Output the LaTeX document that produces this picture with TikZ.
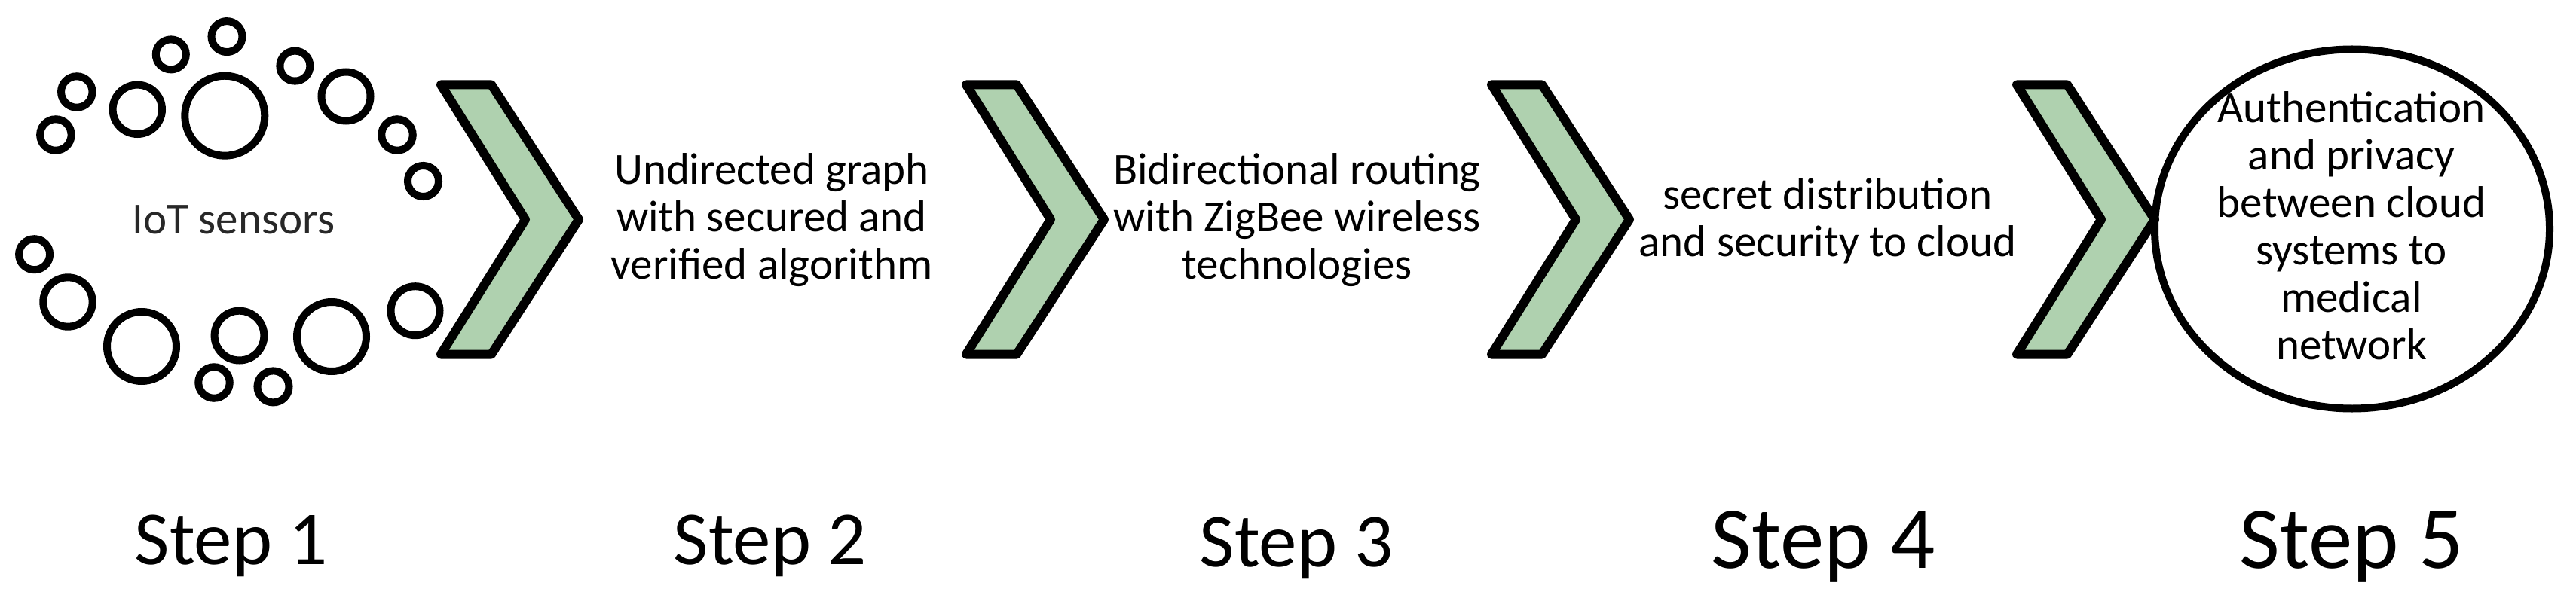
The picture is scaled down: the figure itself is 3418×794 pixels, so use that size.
\documentclass[tikz,border=0pt]{standalone}
\usepackage{fontspec}
\setmainfont{Carlito}
\usetikzlibrary{shapes.geometric}
\definecolor{chevgreen}{RGB}{175,209,175}
\definecolor{iotgray}{RGB}{40,40,40}
\begin{document}
\begin{tikzpicture}[x=1pt,y=-1pt,
  sensor/.style={draw=black, line width=10pt, circle, inner sep=0pt, minimum size=#1},
  chev/.style={draw=black, fill=chevgreen, line width=12pt, line join=round},
  body/.style={font=\fontsize{59}{63}\selectfont, align=center, inner sep=0pt},
  steplbl/.style={font=\fontsize{#1}{#1}\selectfont, inner sep=0pt, anchor=base}]
\useasboundingbox (0,0) rectangle (3418,794);
\fill[white] (0,0) rectangle (3418,794);
% IoT sensors
\node[sensor=41pt] (c1) at (301,48.6) {};
\node[sensor=40pt] (c2) at (226.8,72.4) {};
\node[sensor=41.5pt] (c3) at (101.8,122) {};
\node[sensor=41.5pt] (c4) at (73.9,179) {};
\node[sensor=65.4pt] (c5) at (182.3,145.3) {};
\node[sensor=106pt] (c6) at (298.3,153.7) {};
\node[sensor=40pt] (c7) at (391.4,87.6) {};
\node[sensor=65pt] (c8) at (459,128) {};
\node[sensor=41.5pt] (c9) at (527,179) {};
\node[sensor=41pt] (c10) at (561.5,240.5) {};
\node[sensor=41pt] (c11) at (45.6,337.7) {};
\node[sensor=65.4pt] (c12) at (90,401) {};
\node[sensor=92pt] (c13) at (188,460) {};
\node[sensor=65.8pt] (c14) at (317.5,445.6) {};
\node[sensor=41.5pt] (c15) at (284,508) {};
\node[sensor=42pt] (c16) at (362.5,513.4) {};
\node[sensor=92pt] (c17) at (440,447) {};
\node[sensor=65pt] (c18) at (551,412.7) {};
% chevrons
\foreach \x in {585,1282,1979,2676}
  \draw[chev] (\x,112.5) -- ++(67,0) -- ++(116,179) -- ++(-116,179) -- ++(-67,0) -- ++(112,-179) -- cycle;
% final ellipse
\node[draw=black, line width=10pt, ellipse, minimum width=524pt, minimum height=477pt, inner sep=0pt] (e5) at (3121,304) {};
% texts
\node[body, text=iotgray, anchor=base] (t1) at (310,310) {IoT sensors};
\node[body] (t2) at (1024,292) {Undirected graph\\with secured and\\verified algorithm};
\node[body] (t3) at (1721,292) {Bidirectional routing\\with ZigBee wireless\\technologies};
\node[body] (t4) at (2425,293) {secret distribution\\and security to cloud};
\node[body] (t5) at (3120,300) {Authentication\\and privacy\\between cloud\\systems to\\medical\\network};
% step labels
\node[steplbl=101] (s1) at (307,749) {Step 1};
\node[steplbl=101] (s2) at (1022,749) {Step 2};
\node[steplbl=101] (s3) at (1720,752) {Step 3};
\node[steplbl=117] (s4) at (2419,754) {Step 4};
\node[steplbl=117] (s5) at (3120,754) {Step 5};
\end{tikzpicture}
\end{document}
